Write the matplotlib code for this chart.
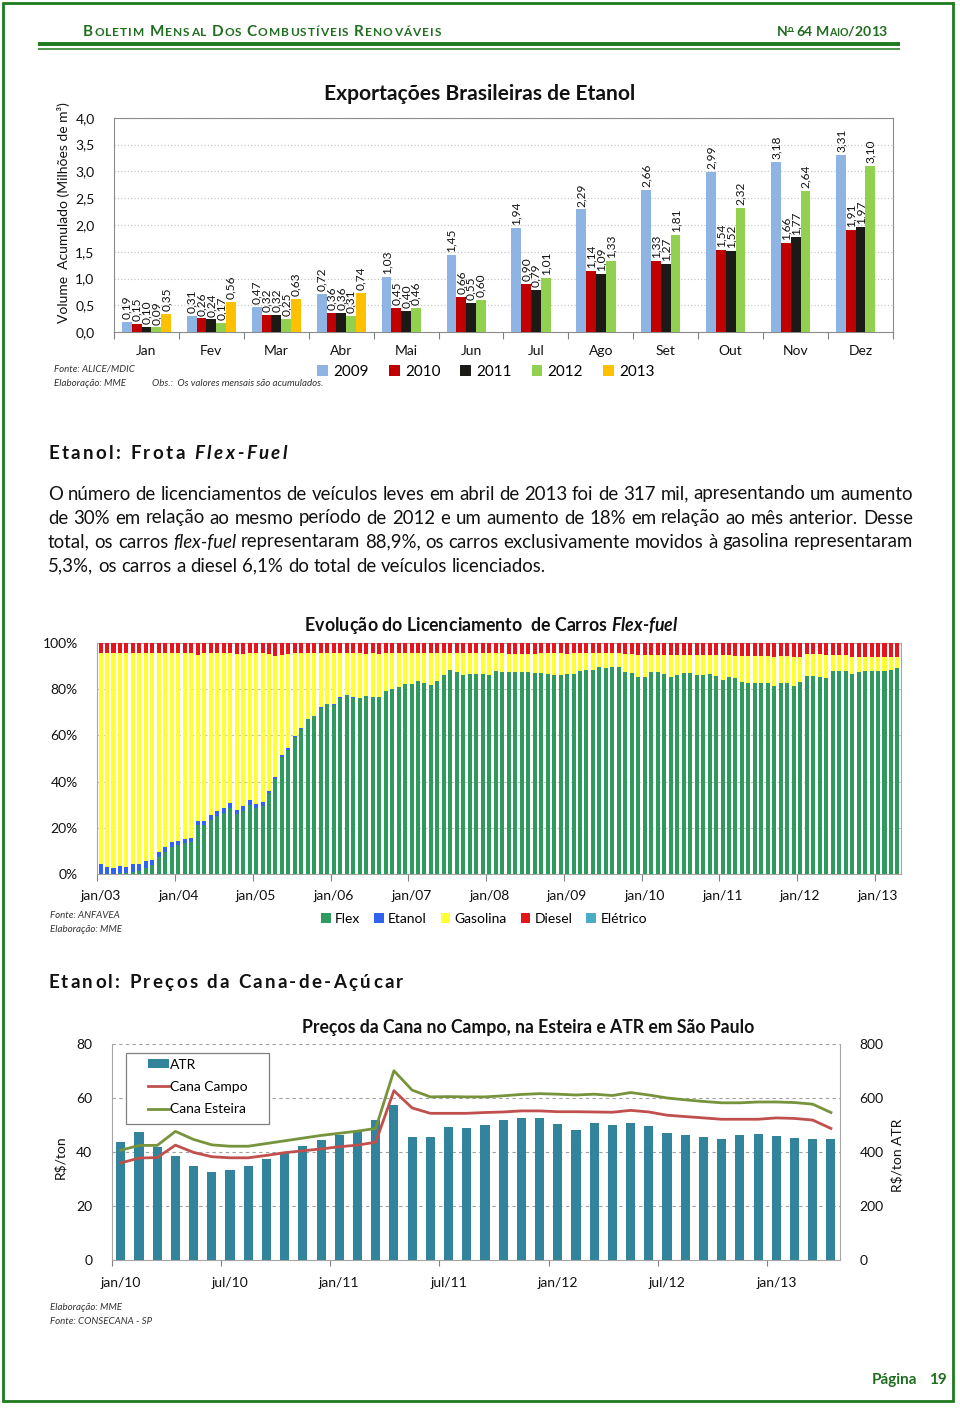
import matplotlib
matplotlib.use('Agg')
import matplotlib.pyplot as plt
import numpy as np
from matplotlib.patches import Rectangle, Patch
from matplotlib.lines import Line2D

W, H = 960, 1409
FAM = ['Lato', 'DejaVu Sans']
plt.rcParams['font.family'] = FAM
plt.rcParams['axes.unicode_minus'] = False

# ------------------------------------------------------------------ data
months_pt = ['Jan', 'Fev', 'Mar', 'Abr', 'Mai', 'Jun', 'Jul', 'Ago', 'Set', 'Out', 'Nov', 'Dez']
export_years = ['2009', '2010', '2011', '2012', '2013']
exp_2009 = [0.19, 0.31, 0.47, 0.72, 1.03, 1.45, 1.94, 2.29, 2.66, 2.99, 3.18, 3.31]
exp_2010 = [0.15, 0.26, 0.32, 0.36, 0.45, 0.66, 0.90, 1.14, 1.33, 1.54, 1.66, 1.91]
exp_2011 = [0.10, 0.24, 0.32, 0.36, 0.40, 0.55, 0.79, 1.09, 1.27, 1.52, 1.77, 1.97]
exp_2012 = [0.09, 0.17, 0.25, 0.31, 0.46, 0.60, 1.01, 1.33, 1.81, 2.32, 2.64, 3.10]
exp_2013 = [0.35, 0.56, 0.63, 0.74]
exp_yticks = [0.0, 0.5, 1.0, 1.5, 2.0, 2.5, 3.0, 3.5, 4.0]

# Licenciamento (% share), jan/03 .. abr/13
lic_year_labels = ['jan/03', 'jan/04', 'jan/05', 'jan/06', 'jan/07', 'jan/08',
                   'jan/09', 'jan/10', 'jan/11', 'jan/12', 'jan/13']
lic_series = ['Flex', 'Etanol', 'Gasolina', 'Diesel', 'Elétrico']
lic_flex = [0.0, 0.0, 0.3, 0.6, 0.6, 1.2, 1.5, 2.6, 3.8, 7.6, 9.7, 11.8,
            12.7, 13.5, 14.0, 21.2, 21.3, 23.6, 25.2, 26.5, 28.6, 26.0, 27.5, 30.0,
            28.5, 29.6, 35.0, 41.3, 50.8, 53.8, 59.2, 62.8, 66.9, 68.2, 71.9, 73.5,
            73.3, 76.3, 77.3, 76.3, 76.2, 76.9, 76.6, 76.6, 79.2, 79.8, 81.0, 82.0,
            82.2, 83.3, 82.7, 81.7, 83.6, 86.0, 88.2, 87.3, 86.0, 86.6, 86.7, 86.6,
            86.2, 87.9, 87.3, 87.3, 87.3, 87.3, 87.3, 86.8, 86.8, 86.3, 86.0, 86.0,
            86.3, 86.3, 87.9, 88.2, 88.2, 89.6, 88.9, 89.4, 89.4, 87.2, 86.8, 85.3,
            85.3, 87.2, 87.5, 86.3, 85.3, 86.0, 86.8, 86.8, 86.0, 86.0, 86.3, 85.6,
            83.9, 85.0, 84.6, 83.2, 82.7, 82.7, 82.7, 82.7, 81.3, 82.7, 82.7, 81.4,
            83.2, 85.8, 85.8, 85.3, 84.9, 87.9, 87.9, 87.9, 86.5, 87.5, 87.8, 87.9,
            87.9, 87.9, 88.2, 88.9]
lic_etanol = [4.5, 3.0, 2.6, 3.0, 2.7, 3.3, 3.0, 3.0, 2.5, 2.0, 2.0, 2.0,
              1.8, 1.8, 1.7, 2.0, 1.9, 2.0, 2.0, 2.0, 2.2, 1.9, 1.9, 1.9,
              1.7, 1.6, 1.1, 0.9, 0.7, 0.6, 0.5, 0.4, 0.3, 0.3, 0.2, 0.2,
              0.2, 0.1, 0.1, 0.1, 0.1, 0.1, 0.1, 0.1, 0.1, 0.1, 0.0, 0.0,
              0.0, 0.0, 0.0, 0.0, 0.0, 0.0, 0.0, 0.0, 0.0, 0.0, 0.0, 0.0,
              0.0, 0.0, 0.0, 0.0, 0.0, 0.0, 0.0, 0.0, 0.0, 0.0, 0.0, 0.0,
              0.0, 0.0, 0.0, 0.0, 0.0, 0.0, 0.0, 0.0, 0.0, 0.0, 0.0, 0.0,
              0.0, 0.0, 0.0, 0.0, 0.0, 0.0, 0.0, 0.0, 0.0, 0.0, 0.0, 0.0,
              0.0, 0.0, 0.0, 0.0, 0.0, 0.0, 0.0, 0.0, 0.0, 0.0, 0.0, 0.0,
              0.0, 0.0, 0.0, 0.0, 0.0, 0.0, 0.0, 0.0, 0.0, 0.0, 0.0, 0.0,
              0.0, 0.0, 0.0, 0.0]
lic_gasolina = [90.9, 92.4, 92.5, 92.1, 92.1, 90.9, 91.2, 89.8, 89.4, 86.1, 83.7, 81.9,
                81.2, 80.1, 80.0, 71.6, 72.2, 69.8, 68.2, 66.9, 64.6, 67.2, 65.7, 63.5,
                65.2, 64.2, 59.0, 52.2, 43.2, 40.7, 35.7, 32.2, 28.2, 26.9, 23.3, 21.7,
                21.9, 19.3, 18.0, 19.0, 19.1, 18.1, 18.7, 18.4, 16.1, 15.5, 14.7, 13.7,
                13.5, 12.1, 13.0, 13.7, 12.1, 9.7, 7.5, 8.4, 9.4, 9.1, 8.7, 8.8,
                9.2, 7.5, 8.1, 7.7, 7.7, 7.7, 7.7, 8.3, 8.6, 9.1, 9.4, 9.4,
                8.8, 9.1, 7.5, 7.2, 7.2, 5.8, 6.5, 6.3, 6.3, 7.9, 8.3, 9.4,
                9.4, 7.5, 7.2, 8.4, 9.4, 8.7, 7.9, 7.9, 8.7, 8.7, 8.4, 9.1,
                10.8, 9.7, 9.8, 11.0, 11.5, 11.5, 11.5, 11.5, 12.7, 11.5, 11.5, 12.6,
                10.8, 9.3, 9.3, 9.8, 9.8, 6.8, 6.8, 6.8, 7.5, 6.2, 5.9, 5.8,
                5.8, 5.8, 5.5, 5.0]
lic_diesel = [4.6, 4.6, 4.6, 4.3, 4.6, 4.6, 4.3, 4.6, 4.3, 4.3, 4.6, 4.3,
              4.3, 4.6, 4.3, 5.2, 4.6, 4.6, 4.6, 4.6, 4.6, 4.9, 4.9, 4.6,
              4.6, 4.6, 4.9, 5.6, 5.3, 4.9, 4.6, 4.6, 4.6, 4.6, 4.6, 4.6,
              4.6, 4.3, 4.6, 4.6, 4.6, 4.9, 4.6, 4.9, 4.6, 4.6, 4.3, 4.3,
              4.3, 4.6, 4.3, 4.6, 4.3, 4.3, 4.3, 4.3, 4.6, 4.3, 4.6, 4.6,
              4.6, 4.6, 4.6, 5.0, 5.0, 5.0, 5.0, 4.9, 4.6, 4.6, 4.6, 4.6,
              4.9, 4.6, 4.6, 4.6, 4.6, 4.6, 4.6, 4.3, 4.3, 4.9, 4.9, 5.3,
              5.3, 5.3, 5.3, 5.3, 5.3, 5.3, 5.3, 5.3, 5.3, 5.3, 5.3, 5.3,
              5.3, 5.3, 5.6, 5.8, 5.8, 5.8, 5.8, 5.8, 6.0, 5.8, 5.8, 6.0,
              6.0, 4.9, 4.9, 4.9, 5.3, 5.3, 5.3, 5.3, 6.0, 6.3, 6.3, 6.3,
              6.3, 6.3, 6.3, 6.1]
lic_eletrico = [0.0] * 124

# Preços da cana, jan/10 .. abr/13
cana_tick_labels = ['jan/10', 'jul/10', 'jan/11', 'jul/11', 'jan/12', 'jul/12', 'jan/13']
cana_atr = [439, 475, 420, 386, 349, 325, 335, 349, 374, 398, 422, 445,
            465, 477, 519, 574, 457, 455, 493, 491, 499, 519, 528, 528,
            503, 481, 507, 499, 509, 497, 471, 463, 457, 447, 463, 467,
            461, 453, 447, 447]
cana_campo = [36.0, 37.8, 38.0, 42.6, 39.9, 38.3, 37.9, 37.9, 38.8, 39.8, 40.5, 41.2,
              42.0, 42.6, 43.7, 62.8, 56.4, 54.4, 54.4, 54.4, 54.7, 54.9, 55.3, 55.3,
              55.0, 55.0, 54.9, 54.8, 55.5, 54.9, 53.7, 53.2, 52.7, 52.2, 52.2, 52.2,
              52.7, 52.5, 51.9, 48.8]
cana_esteira = [40.7, 42.5, 42.5, 47.7, 44.7, 42.7, 42.2, 42.2, 43.2, 44.2, 45.2, 46.2,
                47.0, 47.8, 48.8, 70.2, 63.0, 60.5, 60.6, 60.5, 60.5, 60.9, 61.4, 61.7,
                61.5, 61.2, 61.5, 61.0, 62.1, 61.2, 60.1, 59.4, 58.8, 58.3, 58.3, 58.6,
                58.6, 58.4, 57.8, 54.7]

# ------------------------------------------------------------------ style
GREEN = '#1E7B1E'
HGREEN = '#1F6E1F'
TXT = '#111111'
GRAY = '#A6A6A6'

fig = plt.figure(figsize=(W / 100, H / 100), dpi=100)
fig.patch.set_facecolor('white')
renderer = fig.canvas.get_renderer()


def fxy(x, y):
    return x / W, 1 - y / H


def add_ax(x0, y0, x1, y1):
    return fig.add_axes([x0 / W, 1 - y1 / H, (x1 - x0) / W, (y1 - y0) / H])


def measure(s, **kw):
    t = fig.text(0, 0, s, **kw)
    w = t.get_window_extent(renderer=renderer).width
    t.remove()
    return w


_adv = {}


def adv(ch, size, weight='normal', style='normal'):
    key = (ch, size, weight, style)
    if key not in _adv:
        kw = dict(fontsize=size, fontweight=weight, fontstyle=style)
        _adv[key] = measure('x' + ch + 'x', **kw) - measure('xx', **kw)
    return _adv[key]


def runs_width(runs, tracking=0.0):
    tot, n = 0.0, 0
    for r in runs:
        for ch in r['s']:
            tot += adv(ch, r['size'], r.get('weight', 'normal'), r.get('style', 'normal'))
            n += 1
    return tot + tracking * (n - 1)


def draw_runs(x, y, runs, tracking=0.0, color=TXT):
    for r in runs:
        for ch in r['s']:
            w = adv(ch, r['size'], r.get('weight', 'normal'), r.get('style', 'normal'))
            if ch != ' ':
                fig.text(*fxy(x, y - r.get('dy', 0)), ch, ha='left', va='baseline',
                         fontsize=r['size'], fontweight=r.get('weight', 'normal'),
                         fontstyle=r.get('style', 'normal'), color=color)
            x += w + tracking
    return x


def fit_tracking(runs, target):
    nat = runs_width(runs)
    n = sum(len(r['s']) for r in runs)
    return (target - nat) / (n - 1)


def fit_size(runs, target):
    nat = runs_width(runs)
    f = target / nat
    return [dict(r, size=round(r['size'] * f, 2)) for r in runs]


# ------------------------------------------------------------------ page frame
fig.add_artist(Rectangle((3 / W, 1 - 1401 / H), 950 / W, 1398 / H, transform=fig.transFigure,
                         fill=False, edgecolor=GREEN, lw=2.0))
fig.add_artist(Line2D([38 / W, 900 / W], [1 - 44 / H] * 2, transform=fig.transFigure,
                      color=GREEN, lw=2.8, solid_capstyle='butt'))
fig.add_artist(Line2D([38 / W, 900 / W], [1 - 48.8 / H] * 2, transform=fig.transFigure,
                      color=GREEN, lw=1.1, solid_capstyle='butt'))

# header (small caps)
hdr = []
for word in ['Boletim', 'Mensal', 'Dos', 'Combustíveis', 'Renováveis']:
    hdr.append(dict(s=word[0].upper(), size=11, weight='bold'))
    hdr.append(dict(s=word[1:].upper() + ' ', size=8.6, weight='bold'))
hdr[-1]['s'] = hdr[-1]['s'].rstrip()
draw_runs(83, 36, hdr, tracking=fit_tracking(hdr, 358), color=HGREEN)

rh = [dict(s='N', size=10.5, weight='bold'),
      dict(s='o', size=7, weight='bold', dy=4),
      dict(s=' 64 ', size=10.5, weight='bold'),
      dict(s='M', size=10.5, weight='bold'),
      dict(s='AIO', size=8, weight='bold'),
      dict(s='/2013', size=10.5, weight='bold')]
rh = fit_size(rh, 111)
rw = runs_width(rh)
xs = 887 - rw
draw_runs(xs, 36, rh, color=HGREEN)
ox = xs + adv('N', rh[0]['size'], 'bold')
fig.add_artist(Line2D([ox / W, (ox + adv('o', rh[1]['size'], 'bold')) / W], [1 - 30.5 / H] * 2,
                      transform=fig.transFigure, color=HGREEN, lw=0.7))

# footer
fig.text(*fxy(872, 1384), 'Página', fontsize=11, fontweight='bold', color=HGREEN, va='baseline')
fig.text(*fxy(947, 1384), '19', fontsize=11, fontweight='bold', color=HGREEN, va='baseline', ha='right')

# ------------------------------------------------------------------ chart 1
EXP_COLORS = ['#8EB4E3', '#C00000', '#1C1A17', '#92D050', '#FFC000']
ax1 = add_ax(114, 117.7, 893, 332.3)
xm = np.arange(len(months_pt))
bw = 0.151
handles1 = []
for k, (vals, col, lab) in enumerate(zip([exp_2009, exp_2010, exp_2011, exp_2012, exp_2013],
                                        EXP_COLORS, export_years)):
    xsb = xm[:len(vals)] + (k - 2) * bw
    ax1.bar(xsb, vals, width=bw, color=col, zorder=3, linewidth=0)
    for xi, v in zip(xsb, vals):
        ax1.annotate(f'{v:.2f}'.replace('.', ','), (xi, v), xytext=(0, 2),
                     textcoords='offset points', rotation=90, ha='center', va='bottom',
                     fontsize=8.6, color=TXT)
    handles1.append(Patch(facecolor=col, label=lab))
ax1.set_xlim(-0.5, 11.5)
ax1.set_ylim(0, 4)
ax1.set_yticks(exp_yticks)
ax1.set_yticklabels([f'{v:.1f}'.replace('.', ',') for v in exp_yticks], fontsize=10, color=TXT)
ax1.set_xticks(xm)
ax1.set_xticklabels(months_pt, fontsize=10, color=TXT)
ax1.set_xticks(np.arange(-0.5, 12, 1), minor=True)
ax1.tick_params(axis='x', which='major', length=0, pad=9)
ax1.tick_params(axis='x', which='minor', length=5, color='#808080', width=0.8)
ax1.tick_params(axis='y', length=0, pad=14)
ax1.yaxis.grid(True, linestyle=(0, (1, 2)), color='#BFBFBF', lw=0.8)
ax1.set_axisbelow(True)
for sp in ax1.spines.values():
    sp.set_color('#8C8C8C')
    sp.set_linewidth(0.8)
fig.text(*fxy(63, 213), 'Volume  Acumulado (Milhões de m³)', rotation=90, ha='center',
         va='center', fontsize=10, color=TXT)
t1 = fit_size([dict(s='Exportações Brasileiras de Etanol', size=14, weight='bold')], 313)
fig.text(*fxy(480, 100), t1[0]['s'], fontsize=t1[0]['size'], fontweight='bold', ha='center',
         va='baseline', color=TXT)
fig.legend(handles=handles1, loc='center', bbox_to_anchor=fxy(486, 372), ncol=5, frameon=False,
           fontsize=11, handlelength=0.7, handleheight=0.7, handletextpad=0.35,
           columnspacing=1.3, borderaxespad=0)
fig.text(*fxy(54, 369), 'Fonte: ALICE/MDIC', fontsize=7, fontstyle='italic', va='center', color='#333333')
fig.text(*fxy(54, 383), 'Elaboração: MME', fontsize=7, fontstyle='italic', va='center', color='#333333')
fig.text(*fxy(152, 383), 'Obs.:  Os valores mensais são acumulados.', fontsize=7, fontstyle='italic',
         va='center', color='#333333')

# ------------------------------------------------------------------ section 1 + body text
s1 = [dict(s='Etanol: Frota ', size=13.5, weight='bold'),
      dict(s='Flex-Fuel', size=13.5, weight='bold', style='italic')]
draw_runs(48, 459, s1, tracking=fit_tracking(s1, 239))

body = ["O número de licenciamentos de veículos leves em abril de 2013 foi de 317 mil, apresentando um aumento",
        "de 30% em relação ao mesmo período de 2012 e um aumento de 18% em relação ao mês anterior. Desse",
        "total, os carros *flex-fuel* representaram 88,9%, os carros exclusivamente movidos à gasolina representaram",
        "5,3%, os carros a diesel 6,1% do total de veículos licenciados."]
body_words = []
for line in body:
    ws = []
    for w in line.split(' '):
        if w.startswith('*') and w.endswith('*'):
            ws.append((w.strip('*'), 'italic'))
        else:
            ws.append((w, 'normal'))
    body_words.append(ws)

X0, X1 = 48, 913


def line_nat(ws, size):
    sp = adv(' ', size)
    return sum(measure(w, fontsize=size, fontstyle=st) for w, st in ws) + sp * (len(ws) - 1)


base = 11.0
fs = base * min((X1 - X0) / line_nat(ws, base) for ws in body_words[:3])
fs = round(fs, 2)
for i, (ws, yb) in enumerate(zip(body_words, [499.5, 523.5, 547.5, 571.5])):
    widths = [measure(w, fontsize=fs, fontstyle=st) for w, st in ws]
    if i < 3:
        gap = ((X1 - X0) - sum(widths)) / (len(ws) - 1)
    else:
        gap = adv(' ', fs)
    x = X0
    for (w, st), wd in zip(ws, widths):
        fig.text(*fxy(x, yb), w, fontsize=fs, fontstyle=st, ha='left', va='baseline', color=TXT)
        x += wd + gap

# ------------------------------------------------------------------ chart 2
LIC_COLORS = ['#2E9A5E', '#3163F0', '#FFFF33', '#E8141B', '#4BACC6']
ax2 = add_ax(97.3, 642.7, 900.7, 874.3)
n_lic = len(lic_flex)
xi2 = np.arange(n_lic)
bottom = np.zeros(n_lic)
handles2 = []
for vals, col, lab in zip([lic_flex, lic_etanol, lic_gasolina, lic_diesel, lic_eletrico],
                          LIC_COLORS, lic_series):
    v = np.array(vals, dtype=float)
    ax2.bar(xi2, v, bottom=bottom, width=0.62, color=col, linewidth=0, zorder=3)
    bottom += v
    handles2.append(Patch(facecolor=col, label=lab))
ax2.set_xlim(-0.5, n_lic - 0.5)
ax2.set_ylim(0, 100)
ax2.set_yticks(np.arange(0, 101, 20))
ax2.set_yticklabels([f'{v}%' for v in range(0, 101, 20)], fontsize=10, color=TXT)
ax2.set_xticks(np.arange(0, n_lic, 12))
ax2.set_xticklabels(lic_year_labels, fontsize=10, color=TXT)
ax2.set_xticks(np.arange(-0.5, n_lic, 12), minor=True)
ax2.tick_params(axis='x', which='major', length=0, pad=11)
ax2.tick_params(axis='x', which='minor', length=5, color='#808080', width=0.8)
ax2.tick_params(axis='y', length=0, pad=14)
ax2.yaxis.grid(True, linestyle=(0, (3, 3)), color='#BFBFBF', lw=0.8)
ax2.set_axisbelow(True)
for sp in ax2.spines.values():
    sp.set_color(GRAY)
    sp.set_linewidth(0.8)
t2 = fit_size([dict(s='Evolução do Licenciamento  de Carros ', size=12, weight='bold'),
               dict(s='Flex-fuel', size=12, weight='bold', style='italic')], 368)
draw_runs(305, 631, t2)
fig.legend(handles=handles2, loc='center', bbox_to_anchor=fxy(484, 919), ncol=5, frameon=False,
           fontsize=10, handlelength=0.7, handleheight=0.7, handletextpad=0.3,
           columnspacing=1.0, borderaxespad=0)
fig.text(*fxy(50, 915), 'Fonte: ANFAVEA', fontsize=7, fontstyle='italic', va='center', color='#333333')
fig.text(*fxy(50, 929), 'Elaboração: MME', fontsize=7, fontstyle='italic', va='center', color='#333333')

# ------------------------------------------------------------------ section 2
s2 = [dict(s='Etanol: Preços da Cana-de-Açúcar', size=13.5, weight='bold')]
draw_runs(48, 988, s2, tracking=fit_tracking(s2, 355))

# ------------------------------------------------------------------ chart 3
ax3 = add_ax(111.7, 1044.3, 840, 1260)
n_c = len(cana_atr)
xi3 = np.arange(n_c)
ax3.bar(xi3, cana_atr, width=0.5, color='#31849B', linewidth=0, zorder=3)
ax3.set_ylim(0, 800)
ax3.set_xlim(-0.5, n_c - 0.5)
ax3.yaxis.grid(True, linestyle=(0, (3, 3)), color='#A0A0A0', lw=0.8)
ax3.set_axisbelow(True)
ax3.set_xticks(np.arange(0, n_c, 6))
ax3.set_xticklabels(cana_tick_labels, fontsize=10, color=TXT)
ax3.set_xticks(np.arange(-0.5, n_c, 6), minor=True)
ax3.tick_params(axis='x', which='major', length=0, pad=12)
ax3.tick_params(axis='x', which='minor', length=4, color='#808080', width=0.8)
ax3.spines['top'].set_visible(False)
for k in ['left', 'right', 'bottom']:
    ax3.spines[k].set_color(GRAY)
    ax3.spines[k].set_linewidth(0.8)

ax4 = ax3.twinx()
ax4.plot(xi3, cana_campo, color='#C0504D', lw=2.0, zorder=4, solid_joinstyle='round')
ax4.plot(xi3, cana_esteira, color='#77933C', lw=2.0, zorder=4, solid_joinstyle='round')
ax4.set_ylim(0, 80)
for sp in ax4.spines.values():
    sp.set_visible(False)

# after twinx: bars axis -> right ticks, lines axis -> left ticks
ax3.yaxis.tick_right()
ax3.set_yticks(np.arange(0, 801, 200))
ax3.set_yticklabels([str(v) for v in range(0, 801, 200)], fontsize=10, color=TXT)
ax3.tick_params(axis='y', which='both', left=False, labelleft=False, right=True,
                labelright=True, length=0, pad=14)
ax4.yaxis.tick_left()
ax4.set_yticks(np.arange(0, 81, 20))
ax4.set_yticklabels([str(v) for v in range(0, 81, 20)], fontsize=10, color=TXT)
ax4.tick_params(axis='y', which='both', right=False, labelright=False, left=True,
                labelleft=True, length=0, pad=14)

fig.text(*fxy(60, 1157), 'R$/ton', rotation=90, ha='center', va='center', fontsize=10, color=TXT)
fig.text(*fxy(897, 1155), 'R$/ton ATR', rotation=90, ha='center', va='center', fontsize=10, color=TXT)
t3 = fit_size([dict(s='Preços da Cana no Campo, na Esteira e ATR em São Paulo', size=12, weight='bold')], 450)
fig.text(*fxy(528, 1033), t3[0]['s'], fontsize=t3[0]['size'], fontweight='bold', ha='center',
         va='baseline', color=TXT)

fig.add_artist(Rectangle((126 / W, 1 - 1124 / H), (268.7 - 126) / W, (1124 - 1053) / H,
                         transform=fig.transFigure, facecolor='white', edgecolor='#808080',
                         lw=0.9, zorder=2))
handles3 = [Patch(facecolor='#31849B', label='ATR'),
            Line2D([], [], color='#C0504D', lw=2.0, label='Cana Campo'),
            Line2D([], [], color='#77933C', lw=2.0, label='Cana Esteira')]
leg3 = fig.legend(handles=handles3, loc='upper left', bbox_to_anchor=fxy(142.4, 1053), frameon=False,
                  fontsize=10, handlelength=1.5, handleheight=0.6, handletextpad=0.1,
                  labelspacing=0.75, borderpad=0.4, borderaxespad=0)
leg3.set_zorder(5)
fig.text(*fxy(50, 1308), 'Elaboração: MME', fontsize=7, fontstyle='italic', va='center', color='#333333')
fig.text(*fxy(50, 1322), 'Fonte: CONSECANA - SP', fontsize=7, fontstyle='italic', va='center', color='#333333')

fig.savefig('out.png', dpi=100, facecolor='white')
